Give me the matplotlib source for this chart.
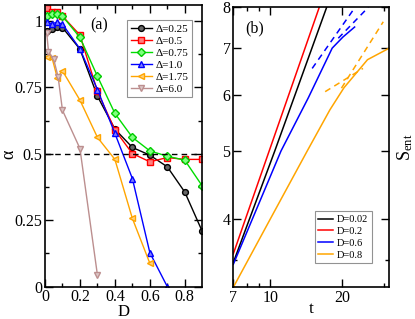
import numpy as np
import matplotlib
matplotlib.use('Agg')
import matplotlib.pyplot as plt

plt.rcParams['font.family'] = 'serif'
plt.rcParams['font.serif'] = ['Liberation Serif', 'DejaVu Serif']
plt.rcParams['mathtext.fontset'] = 'custom'
plt.rcParams['mathtext.rm'] = 'Liberation Serif'

# panel (a): alpha vs D for several Delta
D_main = [0.01, 0.04, 0.07, 0.1, 0.2, 0.3, 0.4, 0.5, 0.6, 0.7, 0.8, 0.9]
a_025 = [0.962, 0.970, 0.977, 0.975, 0.894, 0.717, 0.593, 0.524, 0.495, 0.451, 0.356, 0.208]
a_05 = [1.048, 1.034, 1.032, 1.018, 0.947, 0.735, 0.590, 0.501, 0.470, 0.486, 0.479, 0.479]
a_075 = [1.020, 1.025, 1.028, 1.018, 0.938, 0.792, 0.652, 0.562, 0.511, 0.491, 0.476, 0.379]
D_10 = [0.01, 0.04, 0.07, 0.1, 0.2, 0.3, 0.4, 0.5, 0.6, 0.7]
a_10 = [0.995, 0.990, 0.995, 0.988, 0.895, 0.742, 0.577, 0.407, 0.128, 0.0]
D_175 = [0.01, 0.04, 0.07, 0.1, 0.2, 0.3, 0.4, 0.5, 0.6]
a_175 = [0.865, 0.862, 0.787, 0.812, 0.702, 0.562, 0.479, 0.257, 0.088]
D_60 = [0.01, 0.02, 0.05, 0.075, 0.1, 0.2, 0.3]
a_60 = [0.955, 0.885, 0.855, 0.790, 0.664, 0.520, 0.044]

# panel (b): entanglement entropy vs t
t_002 = [7, 10.45, 17.25]
s_002 = [3.47, 5.0, 8.0]
t_02 = [7, 16.06]
s_02 = [3.57, 8.0]
t_06 = [7, 11.1, 14.45, 18.2, 20.2, 22.6]
s_06 = [3.45, 5.0, 5.95, 7.0, 7.26, 7.5]
t_06_fit1 = [15.0, 22.7]
s_06_fit1 = [6.55, 8.0]
t_06_fit2 = [19.3, 25.8]
s_06_fit2 = [7.23, 8.0]
t_08 = [7, 10, 14.3, 17.8, 20.4, 25.6, 31.6]
s_08 = [3.2, 4.0, 5.0, 5.72, 6.15, 6.74, 7.0]
t_08_fit1 = [17.0, 24.5]
s_08_fit1 = [6.07, 6.55]
t_08_fit2 = [19.9, 29.8]
s_08_fit2 = [6.14, 7.63]

fig = plt.figure(figsize=(4.15, 3.19), dpi=100)
ax1 = fig.add_axes([0.1084, 0.1013, 0.379, 0.883])
ax2 = fig.add_axes([0.5622, 0.0994, 0.3759, 0.8777])

ms = 4.2
ax1.plot(D_main, a_025, '-o', color='black', mfc='#666666', mec='black', ms=ms, lw=1, label='Δ=0.25')
ax1.plot(D_main, a_05, '-s', color='red', mfc='#ff7f7f', mec='red', ms=ms, lw=1, label='Δ=0.5')
ax1.plot(D_main, a_075, '-D', color='#00dd00', mfc='#7fff7f', mec='#00cc00', ms=3.6, lw=1, label='Δ=0.75')
ax1.plot(D_10, a_10, '-^', color='blue', mfc='#7f7fff', mec='blue', ms=ms, lw=1, label='Δ=1.0')
ax1.plot(D_175, a_175, '-<', color='orange', mfc='#ffd27f', mec='orange', ms=ms, lw=1, label='Δ=1.75')
ax1.plot(D_60, a_60, '-v', color='#bc8f8f', mfc='#dcc7c7', mec='#bc8f8f', ms=ms, lw=1, label='Δ=6.0')
ax1.axhline(0.5, color='black', ls='--', lw=1, dashes=(4, 3))

ax1.set_xlim(0, 0.9)
ax1.set_ylim(0, 1.06)
ax1.set_xticks([0, 0.2, 0.4, 0.6, 0.8])
ax1.set_xticklabels(['0', '0.2', '0.4', '0.6', '0.8'])
ax1.set_xticks(np.arange(0.1, 0.9, 0.2), minor=True)
ax1.set_yticks([0, 0.25, 0.5, 0.75, 1])
ax1.set_yticklabels(['0', '0.25', '0.5', '0.75', '1'])
ax1.set_yticks([0.125, 0.375, 0.625, 0.875], minor=True)
ax1.set_xlabel('D', fontsize=12)
ax1.xaxis.set_label_coords(0.5, -0.063)
ax1.set_ylabel('α', fontsize=13)
ax1.yaxis.set_label_coords(-0.175, 0.47)
ax1.text(0.344, 0.929, '(a)', transform=ax1.transAxes, fontsize=11.5, va='center', ha='center')
leg1 = ax1.legend(loc='upper right', bbox_to_anchor=(0.935, 0.947), fontsize=8, frameon=True,
                  fancybox=False, edgecolor='#777777', handlelength=1.9, handletextpad=0.3,
                  borderpad=0.35, labelspacing=0.2, borderaxespad=0)
leg1.get_frame().set_linewidth(0.8)

lw2 = 1.1
ax2.plot(t_002, s_002, color='black', lw=lw2, label='D=0.02')
ax2.plot(t_02, s_02, color='red', lw=lw2, label='D=0.2')
ax2.plot(t_06, s_06, color='blue', lw=lw2, label='D=0.6')
ax2.plot(t_08, s_08, color='orange', lw=lw2, label='D=0.8')
ax2.plot(t_06_fit1, s_06_fit1, color='blue', lw=lw2, dashes=(4, 3))
ax2.plot(t_06_fit2, s_06_fit2, color='blue', lw=lw2, dashes=(4, 3))
ax2.plot(t_08_fit1, s_08_fit1, color='orange', lw=lw2, dashes=(4, 3))
ax2.plot(t_08_fit2, s_08_fit2, color='orange', lw=lw2, dashes=(4, 3))

ax2.set_xscale('log')
ax2.set_yscale('log')
ax2.set_xlim(7, 31.6)
ax2.set_ylim(3.2, 8)
ax2.set_xticks([7, 10, 20])
ax2.set_xticklabels(['7', '10', '20'])
ax2.set_xticks([8, 9, 30], minor=True)
ax2.set_xticklabels([], minor=True)
ax2.set_yticks([4, 5, 6, 7, 8])
ax2.set_yticklabels(['4', '5', '6', '7', '8'])
ax2.set_yticks([3.5], minor=True)
ax2.set_yticklabels([], minor=True)
ax2.set_xlabel('t', fontsize=12.5)
ax2.xaxis.set_label_coords(0.5, -0.05)
ax2.yaxis.set_label_position('right')
ax2.set_ylabel(r'$\mathregular{S_{ent}}$', fontsize=13, labelpad=4)
ax2.text(0.135, 0.925, '(b)', transform=ax2.transAxes, fontsize=11.5, va='center', ha='center')
leg2 = ax2.legend(loc='lower right', bbox_to_anchor=(0.888, 0.085), fontsize=7.5, frameon=True,
                  fancybox=False, edgecolor='#777777', handlelength=1.4, handletextpad=0.4,
                  borderpad=0.35, labelspacing=0.25, borderaxespad=0)
leg2.get_frame().set_linewidth(0.8)

for ax in (ax1, ax2):
    ax.tick_params(which='both', direction='in', top=True, right=True, labelsize=11.5, pad=2)
    ax.tick_params(which='major', length=6, width=1)
    ax.tick_params(which='minor', length=3, width=1)
    for s in ax.spines.values():
        s.set_linewidth(1.2)

fig.savefig('out.png', dpi=100)
